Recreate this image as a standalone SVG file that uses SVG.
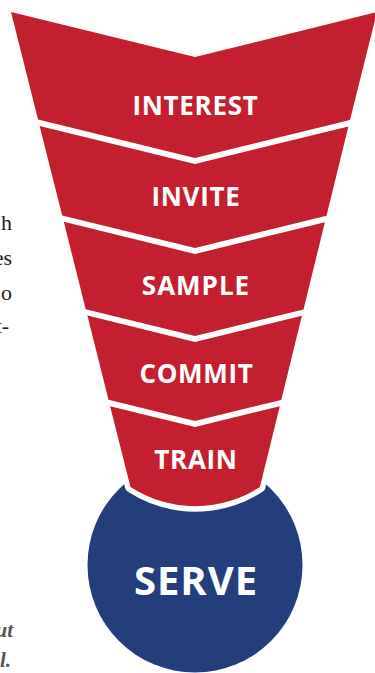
<svg xmlns="http://www.w3.org/2000/svg" width="375" height="673" viewBox="0 0 375 673">
<style>
.band{fill:#C41F30}
.lbl{font-family:"Open Sans","Liberation Sans",sans-serif;font-weight:700;fill:#fff;text-anchor:middle;letter-spacing:0.7px}
.body{font-family:"Liberation Serif","DejaVu Serif",serif;font-size:22px;fill:#231f20}
.cap{font-family:"Liberation Serif","DejaVu Serif",serif;font-size:21px;font-style:italic;font-weight:700;fill:#555}
</style>
<rect width="375" height="673" fill="#fff"/>
<g id="body-text">
<text class="body" x="12" y="230" text-anchor="end">h</text>
<text class="body" x="12" y="265" text-anchor="end">es</text>
<text class="body" x="12" y="300" text-anchor="end">o</text>
<text class="body" x="9" y="333" text-anchor="end">t-</text>
<text class="cap" x="13" y="637" text-anchor="end">ut</text>
<text class="cap" x="11" y="667" text-anchor="end">l.</text>
</g>
<g id="serve">
<circle cx="195" cy="565" r="107.5" fill="#233E7B"/>
<text class="lbl" x="196" y="595" font-size="40" style="letter-spacing:1px">SERVE</text>
</g>
<g id="train">
<path d="M110.1 406.2 L195 427 L279.8 406.3 L259.9 487 A119 119 0 0 1 130.5 487 Z" fill="none" stroke="#fff" stroke-width="11" stroke-linejoin="round"/>
<path class="band" d="M110.1 406.2 L195 427 L279.8 406.3 L259.9 487 A119 119 0 0 1 130.5 487 Z"/>
<text class="lbl" x="196" y="469" font-size="26">TRAIN</text>
</g>
<g id="commit">
<path class="band" d="M87.4 315.6 L195 342 L301.9 315.8 L281.3 399.9 L195 421 L108.5 399.8 Z"/>
<text class="lbl" x="196.5" y="383" font-size="26">COMMIT</text>
</g>
<g id="sample">
<path class="band" d="M63.8 221.8 L195 254 L324.9 222.2 L303.5 309.4 L195 336 L85.7 309.2 Z"/>
<text class="lbl" x="196" y="295" font-size="26" style="letter-spacing:1px">SAMPLE</text>
</g>
<g id="invite">
<path class="band" d="M39.6 125.9 L195 164 L348.4 126.4 L326.5 215.8 L195 248 L62.2 215.5 Z"/>
<text class="lbl" x="196" y="206" font-size="26">INVITE</text>
</g>
<g id="interest">
<path class="band" d="M11 12 L195 57 L377 12 L350 120 L195 158 L38 119.5 Z"/>
<text class="lbl" x="195.5" y="115" font-size="26">INTEREST</text>
</g>
<g id="connectors"/>
</svg>
